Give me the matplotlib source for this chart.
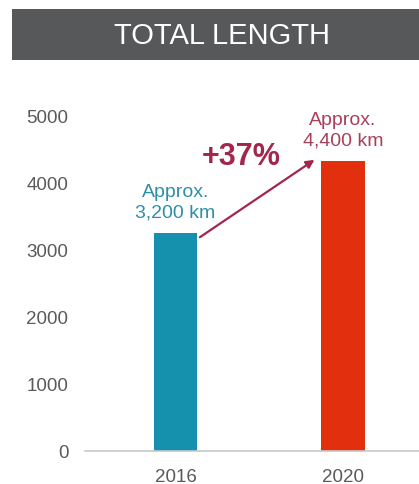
import matplotlib.pyplot as plt
from matplotlib.patches import Rectangle

plt.rcParams['font.family'] = ['Liberation Sans', 'DejaVu Sans']

years = ["2016", "2020"]
lengths = [3250, 4330]
labels = ["Approx.\n3,200 km", "Approx.\n4,400 km"]
growth = "+37%"
title = "TOTAL LENGTH"

bar_colors = ["#1590ad", "#e2300e"]
label_colors = ["#2f8fa7", "#a8405c"]
arrow_color = "#a3264c"
BAR_W = 0.26

fig = plt.figure(figsize=(4.19, 4.85), dpi=100)

# dark title band
fig.patches.append(Rectangle((12 / 419, 0.874), 1.0, 0.105, transform=fig.transFigure,
                             facecolor="#575859", edgecolor="none", zorder=0))
fig.text(0.53, 0.926, title, color="white", fontsize=21, ha="center", va="center")

ax = fig.add_axes([85 / 419, 33 / 485, 334 / 419, 0.76])
x = list(range(len(years)))
ax.bar(x, lengths, width=BAR_W, color=bar_colors, zorder=2)

for xi, v, lab, c in zip(x, lengths, labels, label_colors):
    ax.annotate(lab, (xi, v), xytext=(0, 9), textcoords="offset points",
                ha="center", va="bottom", fontsize=14, color=c, linespacing=1.25)

ax.annotate("", xy=(1 - BAR_W / 2 - 0.04, lengths[1] + 15),
            xytext=(BAR_W / 2 + 0.016, lengths[0] - 60),
            arrowprops=dict(arrowstyle="-|>", color=arrow_color, lw=1.6,
                            mutation_scale=12, shrinkA=0, shrinkB=0))
ax.text(0.39, 4400, growth, fontsize=22, fontweight="bold", color=arrow_color,
        ha="center", va="center")

ax.set_xlim(-0.54, 1.454)
ax.set_ylim(0, 5500)
ax.set_yticks(range(0, 5001, 1000))
ax.set_xticks(x)
ax.set_xticklabels(years)
ax.tick_params(axis="both", length=0, labelsize=13.5, labelcolor="#5a5a5a")
ax.tick_params(axis="y", pad=12)
ax.tick_params(axis="x", pad=12)
for s in ["top", "right", "left"]:
    ax.spines[s].set_visible(False)
ax.spines["bottom"].set_color("#c8c8c8")
ax.spines["bottom"].set_linewidth(1.2)

fig.savefig("out.png", dpi=100)
